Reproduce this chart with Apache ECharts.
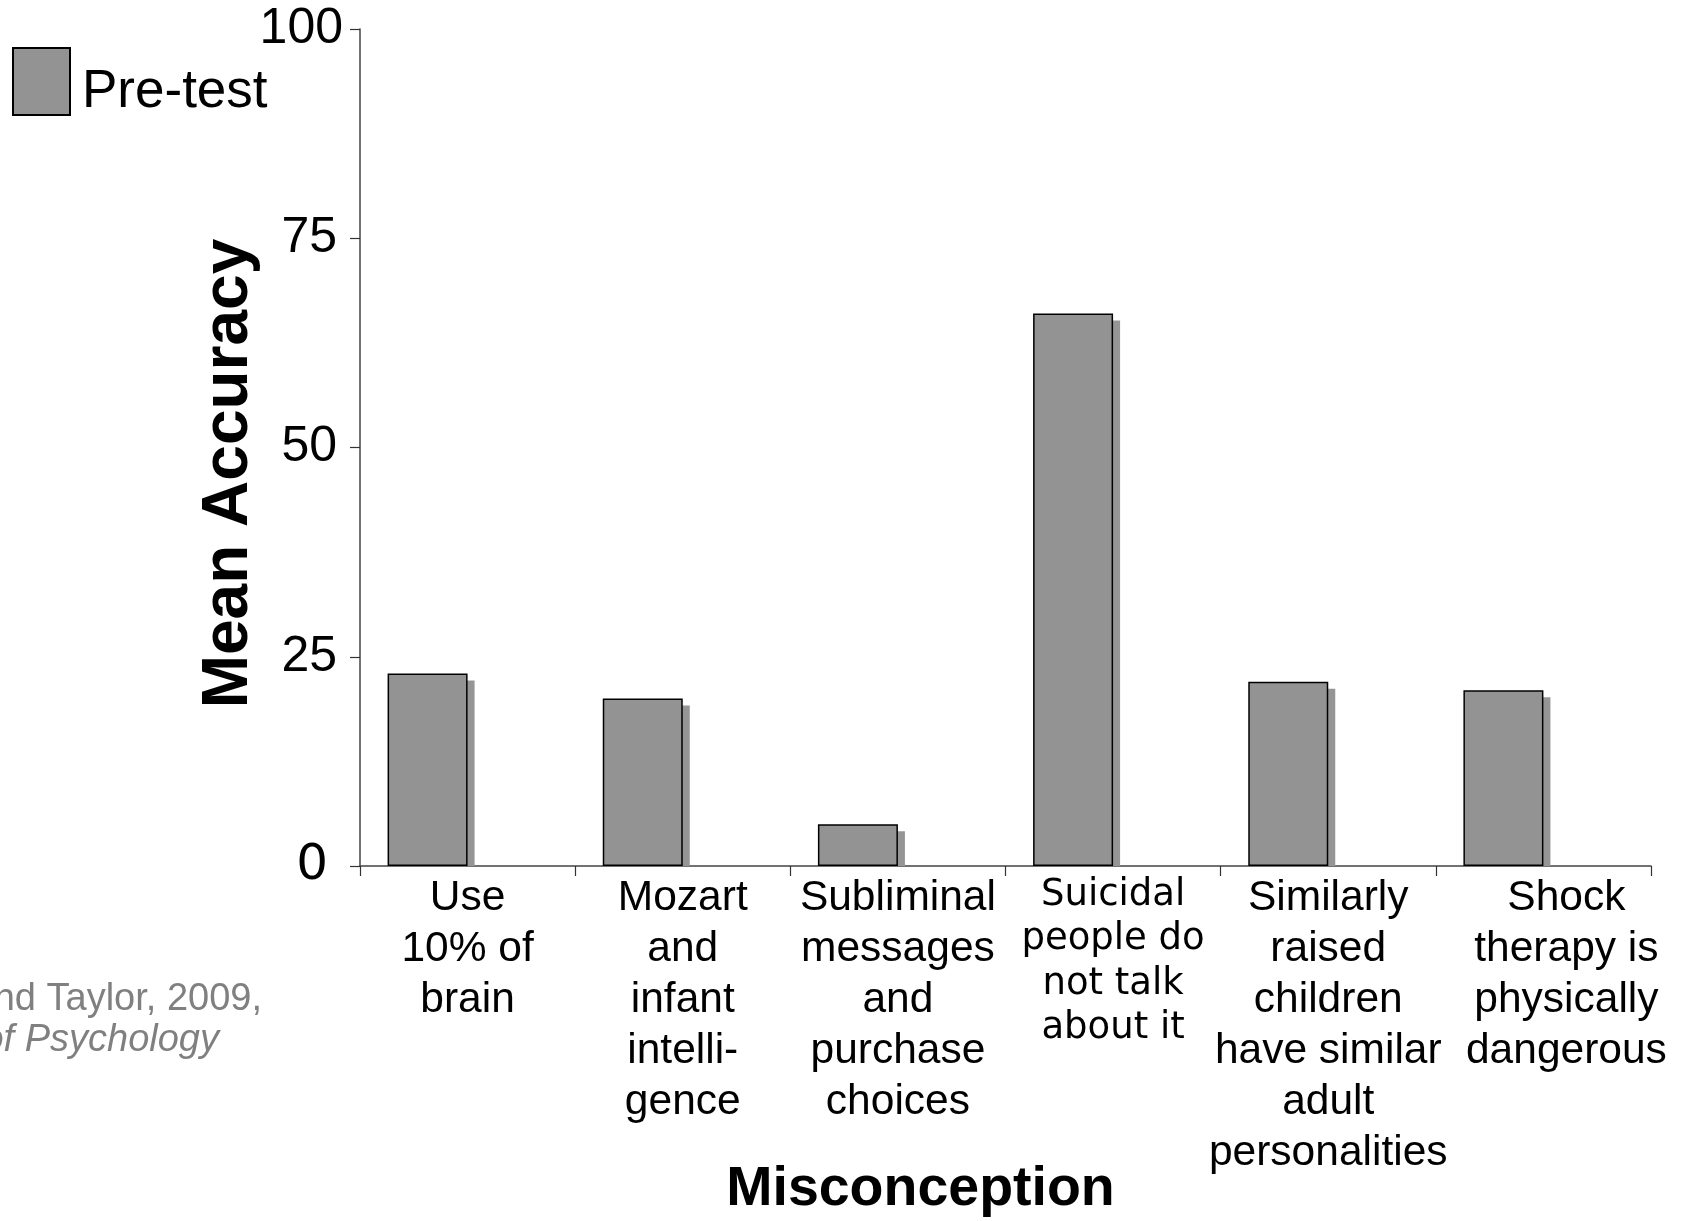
<!DOCTYPE html>
<html>
<head>
<meta charset="utf-8">
<script src="https://cdn.jsdelivr.net/npm/echarts@6/dist/echarts.min.js"></script>
<style>
html,body{margin:0;padding:0;background:#fff;}
#chart{width:1681px;height:1221px;}
</style>
</head>
<body>
<div id="chart"></div>
<script>
const categories = [
  'Use\n10% of\nbrain',
  'Mozart\nand\ninfant\nintelli-\ngence',
  'Subliminal\nmessages\nand\npurchase\nchoices',
  'Suicidal\npeople do\nnot talk\nabout it',
  'Similarly\nraised\nchildren\nhave similar\nadult\npersonalities',
  'Shock\ntherapy is\nphysically\ndangerous'
];
const preTest = [23, 20, 5, 66, 22, 21];
const yMin = 0, yMax = 100, yInterval = 25;
const yAxisName = 'Mean Accuracy';
const xAxisName = 'Misconception';
const citeLine1 = 'and Taylor, 2009,';
const citeLine2 = 'of Psychology';

const BAR_W = 80;
const catData = categories.map((c, i) => {
  const item = { value: c };
  if (i === 3) item.textStyle = { fontFamily: 'DejaVu Sans', fontSize: 37, lineHeight: 44.5, padding: [0, 0, 4, 0] };
  if (i === 5) item.textStyle = { padding: [0, 0, 0, 46] };
  return item;
});

const chart = echarts.init(document.getElementById('chart'));
chart.setOption({
  backgroundColor: '#fff',
  animation: false,
  textStyle: { fontFamily: 'Arial, "Liberation Sans", sans-serif' },
  legend: {
    data: [{ name: 'Pre-test', icon: 'rect' }],
    left: 12, top: 47,
    padding: 0,
    itemWidth: 57, itemHeight: 67,
    formatter: '{a|{name}}',
    textStyle: {
      color: '#000', fontFamily: 'Arial, "Liberation Sans", sans-serif',
      rich: { a: { fontSize: 53, color: '#000', padding: [22, 0, 0, 7], fontFamily: 'Arial, "Liberation Sans", sans-serif' } }
    }
  },
  grid: { left: 360, right: 30, top: 29, bottom: 355, containLabel: false, outerBoundsMode: 'none' },
  xAxis: {
    type: 'category',
    data: catData,
    name: xAxisName,
    nameLocation: 'middle',
    nameGap: 296,
    nameMoveOverlap: false,
    nameTextStyle: { fontSize: 55.5, fontWeight: 'bold', color: '#000', padding: [0, 170, 0, 0] },
    axisLine: { lineStyle: { color: '#444', width: 1.5 } },
    axisTick: { show: true, alignWithLabel: false, length: 10, lineStyle: { color: '#333', width: 1.2 } },
    axisLabel: { interval: 0, margin: 7, fontSize: 42.5, lineHeight: 51, color: '#000', align: 'center', hideOverlap: false }
  },
  yAxis: {
    type: 'value',
    min: yMin, max: yMax, interval: yInterval,
    name: yAxisName,
    nameLocation: 'middle',
    nameGap: 99,
    nameRotate: 90,
    nameMoveOverlap: false,
    nameTextStyle: { fontSize: 64, fontWeight: 'bold', color: '#000', padding: [0, 52, 0, 0] },
    axisLine: { show: true, lineStyle: { color: '#444', width: 1.5 } },
    axisTick: { show: true, length: 10, lineStyle: { color: '#333', width: 1.2 } },
    splitLine: { show: false },
    axisLabel: {
      fontSize: 50, color: '#000', margin: 17,
      formatter: function (v) {
        if (v === yMin) return '{z|' + v + '}';
        if (v === yMax) return '{t|' + v + '}';
        return '{m|' + v + '}';
      },
      rich: {
        z: { fontSize: 50, fontFamily: 'DejaVu Sans', color: '#000', padding: [0, 15, 0, 0] },
        m: { fontSize: 50, color: '#000', padding: [0, 6, 0, 0] },
        t: { fontSize: 50, color: '#000' }
      }
    }
  },
  series: [
    {
      type: 'custom',
      name: 'shadow',
      silent: true,
      z: 1,
      data: preTest.map((v, i) => [i, v]),
      renderItem: function (params, api) {
        const top = api.coord([api.value(0), api.value(1)]);
        const base = api.coord([api.value(0), 0]);
        return {
          type: 'rect',
          shape: { x: top[0] - BAR_W + 7, y: top[1] + 7, width: BAR_W, height: Math.max(0, base[1] - top[1] - 7) },
          style: { fill: '#959595' }
        };
      }
    },
    {
      type: 'bar',
      name: 'Pre-test',
      z: 2,
      barWidth: BAR_W,
      barGap: '0%',
      data: preTest,
      itemStyle: { color: '#939393', borderColor: '#000', borderWidth: 1.5 }
    },
    {
      type: 'bar',
      name: 'Post-test',
      barWidth: BAR_W,
      barGap: '0%',
      data: []
    }
  ],
  graphic: [
    { type: 'text', right: 1681 - 262, top: 981, style: { text: citeLine1, fontSize: 38, fill: '#808080', fontFamily: 'Arial, "Liberation Sans", sans-serif' } },
    { type: 'text', right: 1681 - 219, top: 1021, style: { text: citeLine2, fontSize: 38, fontStyle: 'italic', fill: '#808080', fontFamily: 'Arial, "Liberation Sans", sans-serif' } }
  ]
});
</script>
</body>
</html>
